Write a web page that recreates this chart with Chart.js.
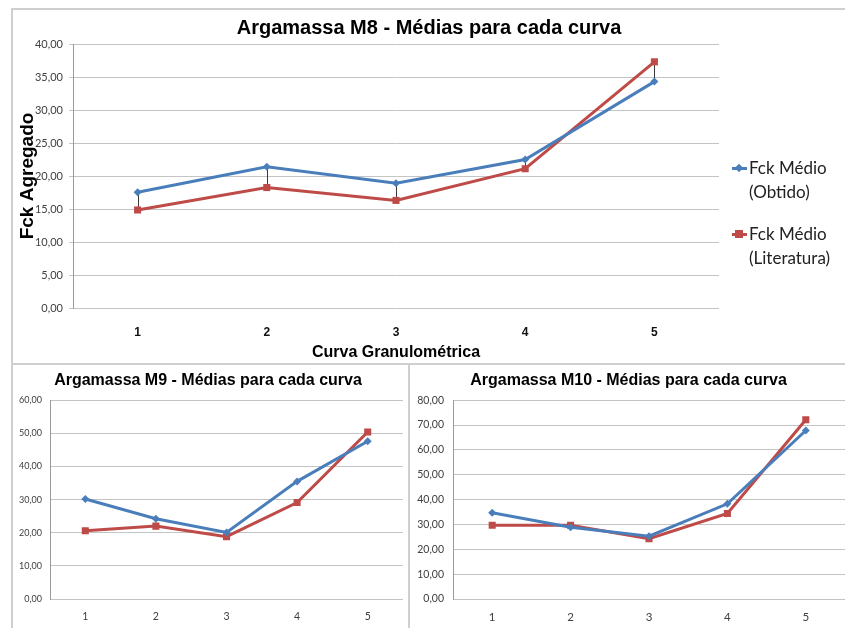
<!DOCTYPE html>
<html lang="pt">
<head>
<meta charset="utf-8">
<title>Argamassas M8, M9 e M10 - Médias para cada curva</title>
<script src="https://cdn.jsdelivr.net/npm/chart.js@4.4.1/dist/chart.umd.min.js"></script>
<style>
  html, body { margin: 0; padding: 0; background: #fff; }
  body { width: 845px; height: 628px; overflow: hidden; position: relative; }
  canvas { position: absolute; display: block; }
  .frame { position: absolute; background: #cfcfcf; }
  .legend { position: absolute; left: 729px; top: 156px; font-family: Lato, "Open Sans", sans-serif; font-size: 17px; color: #222; line-height: 23.5px; }
  .legend .item { position: relative; padding-left: 20px; margin-bottom: 19px; }
  .legend .mk { position: absolute; left: 3px; top: 11px; width: 15px; height: 3px; }
  .legend .dot { position: absolute; }
</style>
</head>
<body>
<!-- panel frames -->
<div class="frame" style="left:11px; top:8px; width:840px; height:2px;"></div>
<div class="frame" style="left:11px; top:8px; width:2px; height:357px;"></div>
<div class="frame" style="left:11px; top:363px; width:840px; height:2px;"></div>
<div class="frame" style="left:11px; top:363px; width:2px; height:270px;"></div>
<div class="frame" style="left:408px; top:363px; width:2px; height:270px;"></div>

<canvas id="m8" width="832" height="353" style="left:13px; top:10px;"></canvas>
<canvas id="m9" width="395" height="263" style="left:13px; top:365px;"></canvas>
<canvas id="m10" width="440" height="263" style="left:410px; top:365px;"></canvas>

<div class="legend">
  <div class="item"><span class="mk" style="background:#4A7EBB"></span><span class="dot" style="left:7px; top:9px; width:6px; height:6px; background:#4A7EBB; transform:rotate(45deg);"></span>Fck Médio<br>(Obtido)</div>
  <div class="item"><span class="mk" style="background:#BE4B48"></span><span class="dot" style="left:6px; top:8px; width:8px; height:8px; background:#BE4B48;"></span>Fck Médio<br>(Literatura)</div>
</div>

<script>
// Curvas granulométricas (eixo X)
const curvas = ['1', '2', '3', '4', '5'];

// Argamassa M8
const m8Obtido = [17.55, 21.4, 18.9, 22.5, 34.3];
const m8Literatura = [14.85, 18.25, 16.3, 21.1, 37.3];

// Argamassa M9
const m9Obtido = [30.2, 24.2, 20.1, 35.5, 47.6];
const m9Literatura = [20.6, 22.0, 18.8, 29.1, 50.4];

// Argamassa M10
const m10Obtido = [34.7, 28.9, 25.3, 38.3, 67.8];
const m10Literatura = [29.7, 29.7, 24.3, 34.4, 72.1];

const AZUL = '#4A7EBB';
const VERMELHO = '#BE4B48';
const GRADE = '#c4c4c4';
const TEXTO = '#404040';
const ARIAL = '"Liberation Sans", Arial, sans-serif';
const CALIBRI = 'Lato, "Open Sans", sans-serif';

Chart.defaults.animation = false;
Chart.defaults.responsive = false;
Chart.defaults.devicePixelRatio = 1;

const virgula = v => v.toFixed(2).replace('.', ',');

// thin vertical lines joining the two series at each category (high-low lines)
const linhasMaxMin = {
  id: 'linhasMaxMin',
  beforeDatasetsDraw(chart, args, opts) {
    if (!opts.display) return;
    const y = chart.scales.y, x = chart.scales.x;
    const a = chart.data.datasets[0].data, b = chart.data.datasets[1].data;
    const ctx = chart.ctx;
    ctx.save();
    ctx.strokeStyle = '#3a3a3a';
    ctx.lineWidth = 1;
    a.forEach((v, i) => {
      const px = Math.round(x.getPixelForValue(i)) + 0.5;
      ctx.beginPath();
      ctx.moveTo(px, y.getPixelForValue(v));
      ctx.lineTo(px, y.getPixelForValue(b[i]));
      ctx.stroke();
    });
    ctx.restore();
  }
};

function series(obtido, literatura, lw) {
  return [
    { label: 'Fck Médio (Obtido)', data: obtido, borderColor: AZUL, backgroundColor: AZUL,
      borderWidth: lw, pointStyle: 'rectRot', pointRadius: 4, pointBorderWidth: 0, tension: 0 },
    { label: 'Fck Médio (Literatura)', data: literatura, borderColor: VERMELHO, backgroundColor: VERMELHO,
      borderWidth: lw, pointStyle: 'rect', pointRadius: 5, pointBorderWidth: 0, tension: 0 }
  ];
}

function criar(id, cfg) {
  const canvas = document.getElementById(id);
  const scales = {
    x: {
      offset: true,
      grid: { display: false, drawTicks: false },
      border: { display: false },
      ticks: { color: cfg.xCor, padding: cfg.xPad, font: cfg.xFont },
      title: cfg.xTitulo,
      afterFit: s => { s.height = cfg.xAltura; }
    },
    y: {
      min: 0, max: cfg.max,
      grid: { color: GRADE, lineWidth: 1, drawTicks: cfg.yTicks, tickLength: 4 },
      border: { display: true, color: '#9a9a9a' },
      ticks: { stepSize: cfg.passo, color: TEXTO, padding: cfg.yPad, font: cfg.yFont, callback: virgula },
      title: cfg.yTitulo,
      afterFit: s => { s.width = cfg.yLargura; }
    }
  };
  if (cfg.reserva) {
    // empty right-hand box that keeps room for the legend column
    scales.reserva = {
      type: 'linear', position: 'right',
      grid: { display: false }, border: { display: false }, ticks: { display: false },
      afterFit: s => { s.width = cfg.reserva; }
    };
  }
  return new Chart(canvas, {
    type: 'line',
    data: { labels: curvas, datasets: series(cfg.obtido, cfg.literatura, cfg.lw) },
    plugins: [linhasMaxMin],
    options: {
      layout: { padding: { left: 0, right: cfg.padRight, top: 0, bottom: 0 } },
      plugins: {
        legend: { display: false },
        tooltip: { enabled: false },
        linhasMaxMin: { display: cfg.maxMin },
        title: {
          display: true, text: cfg.titulo, color: '#000',
          font: { family: ARIAL, size: cfg.tituloTam, weight: 'bold' },
          padding: cfg.tituloPad
        }
      },
      scales
    }
  });
}

criar('m8', {
  obtido: m8Obtido, literatura: m8Literatura, lw: 3, maxMin: true,
  titulo: 'Argamassa M8 - Médias para cada curva', tituloTam: 20, tituloPad: { top: 6, bottom: 4 },
  padRight: 0, reserva: 126, max: 40, passo: 5,
  xCor: '#111', xPad: 17, xFont: { family: ARIAL, size: 12, weight: 'bold' }, xAltura: 55,
  xTitulo: { display: true, text: 'Curva Granulométrica', color: '#000',
             font: { family: ARIAL, size: 16, weight: 'bold' }, padding: { top: 0, bottom: 1 } },
  yTicks: true, yPad: 6, yFont: { family: CALIBRI, size: 11 }, yLargura: 60,
  yTitulo: { display: true, text: 'Fck Agregado', color: '#000',
             font: { family: ARIAL, size: 19, weight: 'bold' }, padding: { top: 3, bottom: 0 } }
});

criar('m9', {
  obtido: m9Obtido, literatura: m9Literatura, lw: 3, maxMin: false,
  titulo: 'Argamassa M9 - Médias para cada curva', tituloTam: 16, tituloPad: { top: 6, bottom: 10 },
  padRight: 5, max: 60, passo: 10,
  xCor: TEXTO, xPad: 11, xFont: { family: CALIBRI, size: 10.5 }, xAltura: 29,
  xTitulo: { display: false },
  yTicks: false, yPad: 8, yFont: { family: CALIBRI, size: 9 }, yLargura: 37,
  yTitulo: { display: false }
});

criar('m10', {
  obtido: m10Obtido, literatura: m10Literatura, lw: 3, maxMin: false,
  titulo: 'Argamassa M10 - Médias para cada curva', tituloTam: 16, tituloPad: { top: 6, bottom: 10 },
  padRight: 3, max: 80, passo: 10,
  xCor: TEXTO, xPad: 11, xFont: { family: CALIBRI, size: 11.5 }, xAltura: 29,
  xTitulo: { display: false },
  yTicks: false, yPad: 9, yFont: { family: CALIBRI, size: 10.5 }, yLargura: 43,
  yTitulo: { display: false }
});
</script>
</body>
</html>
